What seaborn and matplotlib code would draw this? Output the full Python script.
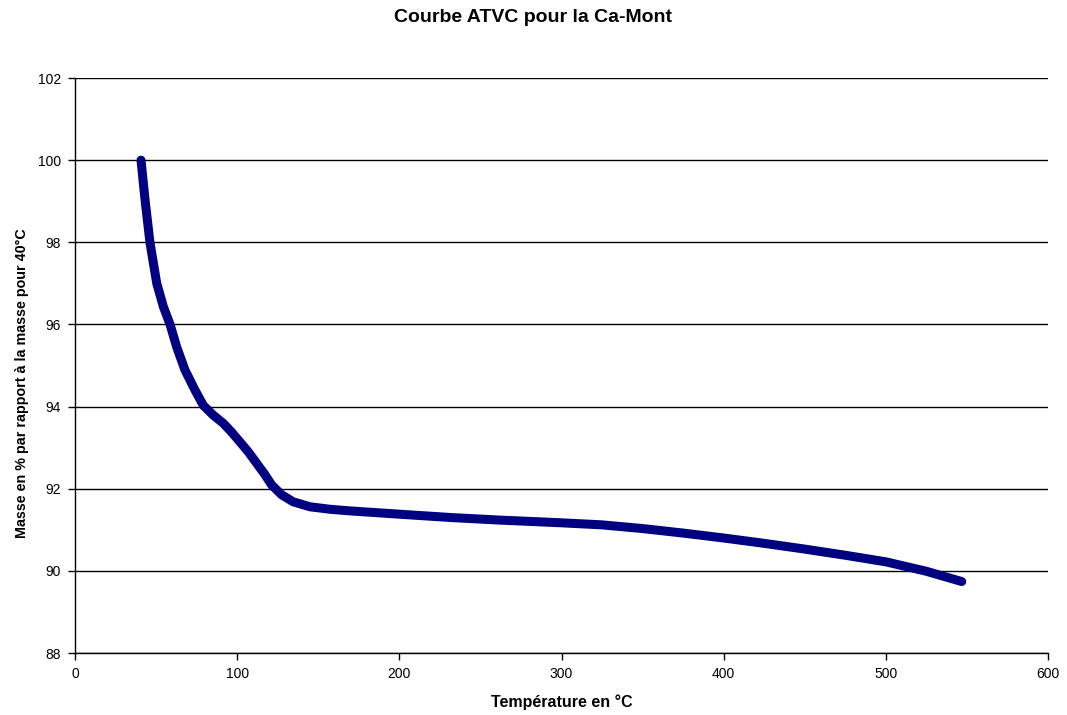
import numpy as np
import pandas as pd
import seaborn as sns
import matplotlib.pyplot as plt

temperature = [40.7, 43.2, 46.2, 50.4, 54.5, 58.6, 62.7, 67.8, 74.0, 79.1, 85.0, 91.5,
               96.5, 101.7, 107.0, 112.0, 117.0, 121.3, 127.5, 134.6, 144.9, 157.2,
               169.6, 200.0, 231.2, 260.0, 300.0, 325.0, 350.0, 375.0, 400.0, 425.0,
               450.0, 475.0, 500.0, 525.0, 546.8]
masse = [100.0, 99.03, 98.0, 97.0, 96.43, 96.0, 95.45, 94.89, 94.4, 94.03, 93.8, 93.59,
         93.38, 93.14, 92.89, 92.62, 92.35, 92.09, 91.85, 91.68, 91.56, 91.5,
         91.46, 91.38, 91.3, 91.24, 91.17, 91.12, 91.03, 90.92, 90.8, 90.67,
         90.53, 90.38, 90.22, 89.99, 89.74]

x_ticks = [0, 100, 200, 300, 400, 500, 600]
y_ticks = [88, 90, 92, 94, 96, 98, 100, 102]

data = pd.DataFrame({'T': temperature, 'm': masse})

sns.set_style('white')
plt.rcParams['font.family'] = ['Liberation Sans', 'DejaVu Sans']
plt.rcParams['text.color'] = 'black'
plt.rcParams['axes.labelcolor'] = 'black'
plt.rcParams['xtick.color'] = 'black'
plt.rcParams['ytick.color'] = 'black'

fig = plt.figure(figsize=(10.67, 7.15), dpi=100)
ax = fig.add_axes([0.0703, 0.0867, 0.9119, 0.8042])

sns.lineplot(data=data, x='T', y='m', ax=ax, color='#000080', linewidth=6.5,
             sort=False, solid_capstyle='round', solid_joinstyle='round')

ax.set_xlim(0, 600)
ax.set_ylim(88, 102)
ax.set_xticks(x_ticks)
ax.set_yticks(y_ticks)
ax.tick_params(axis='both', labelsize=10, length=5, width=1, direction='out',
               left=True, bottom=True, pad=5)
ax.yaxis.grid(True, color='black', linewidth=1)
ax.xaxis.grid(False)
ax.set_axisbelow(True)
for s in ['top', 'right']:
    ax.spines[s].set_visible(False)
for s in ['left', 'bottom']:
    ax.spines[s].set_color('black')
    ax.spines[s].set_linewidth(1)

ax.set_xlabel('Température en °C', fontsize=11.5, fontweight='bold', labelpad=10)
ax.set_ylabel('Masse en % par rapport à la masse pour 40°C', fontsize=10.3,
              fontweight='bold', labelpad=4)
ax.yaxis.set_label_coords(-0.047, 0.47)
fig.suptitle('Courbe ATVC pour la Ca-Mont', x=0.5, y=0.988, fontsize=14, fontweight='bold')

fig.savefig('out.png', dpi=100)
